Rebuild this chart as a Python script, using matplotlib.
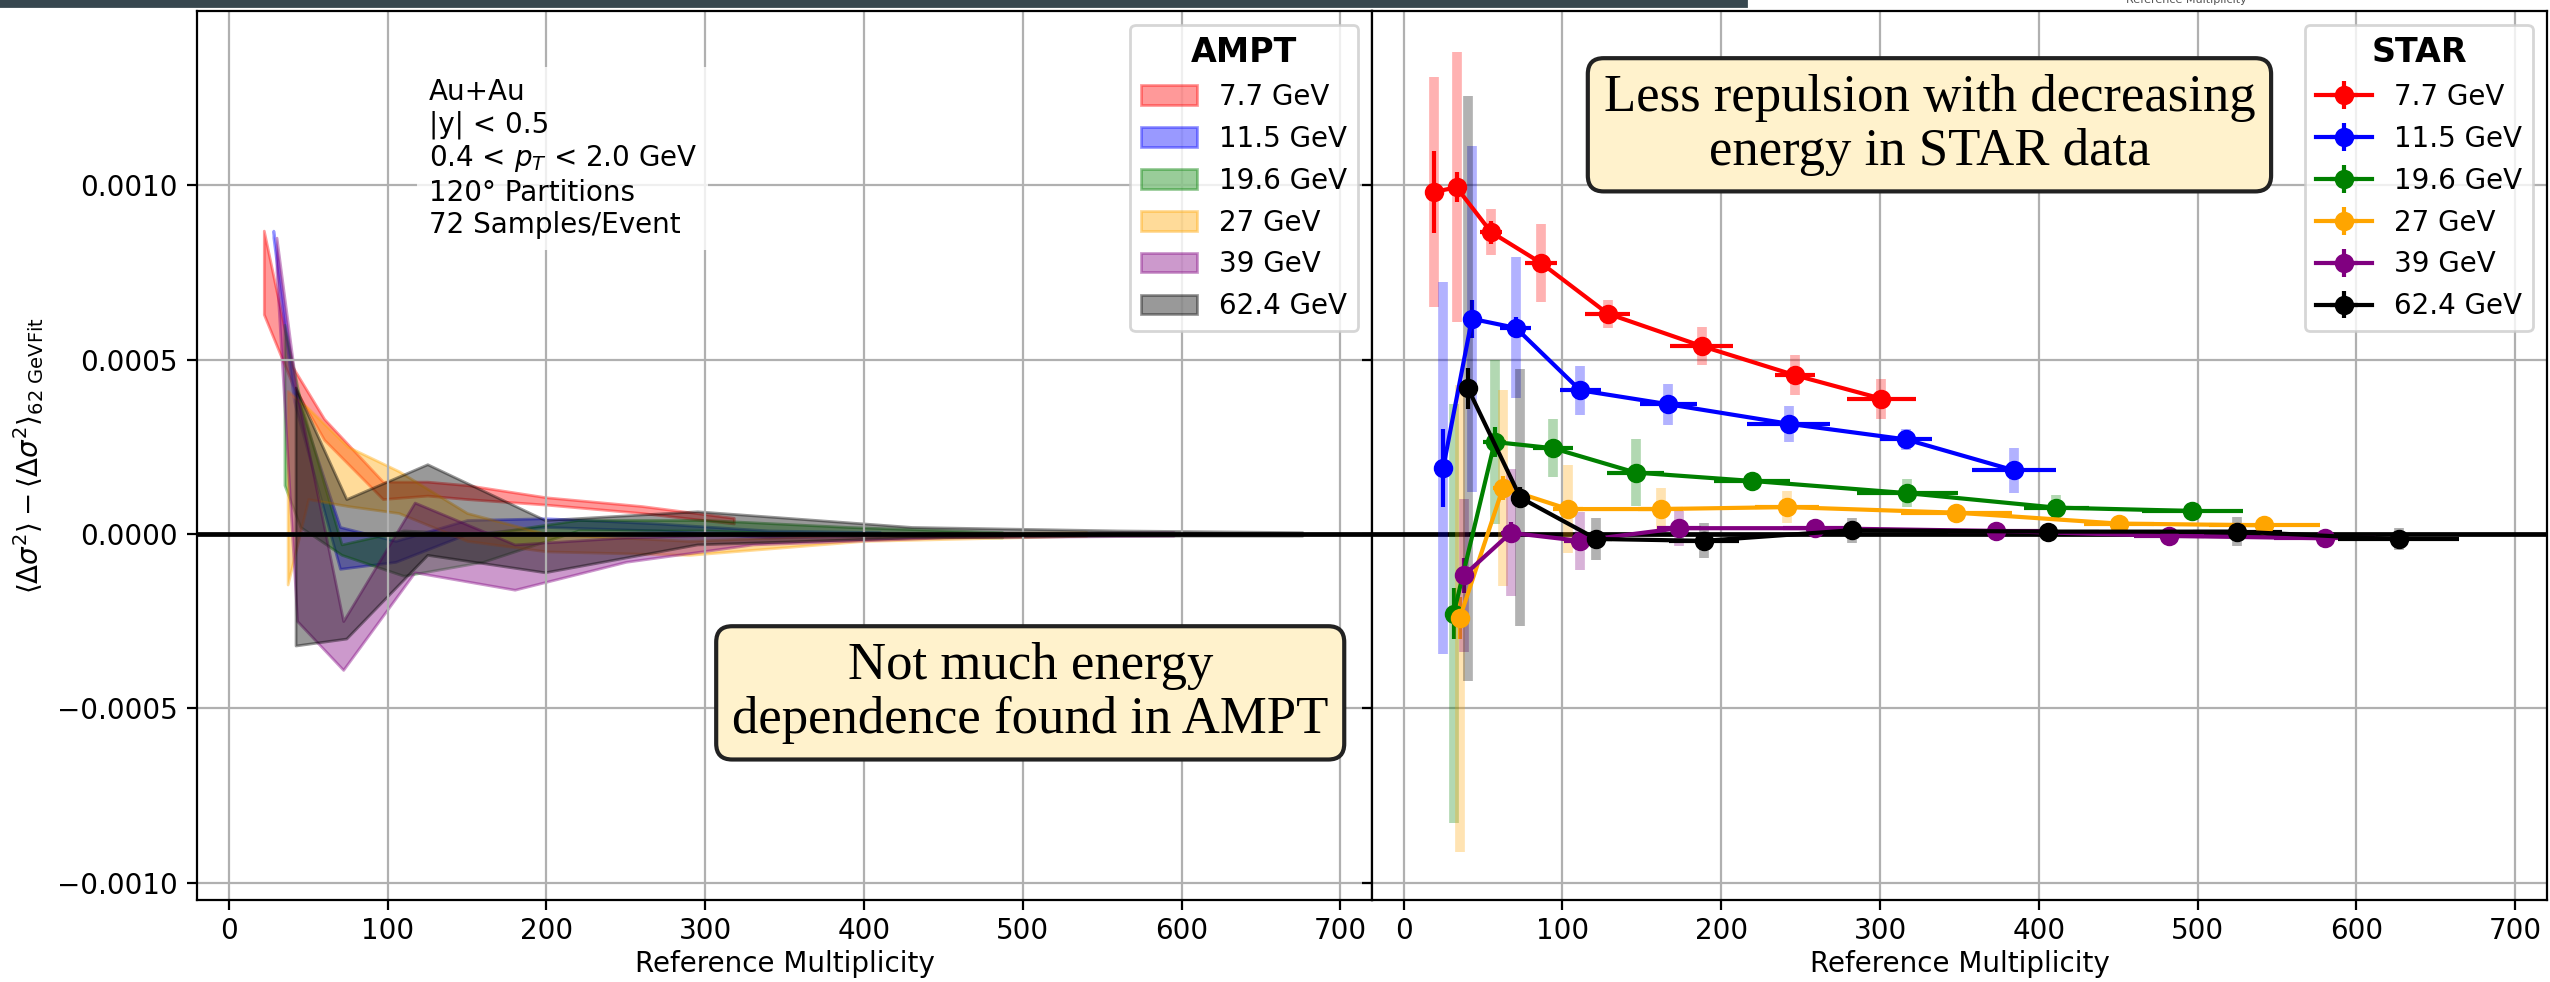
import numpy as np
import matplotlib
matplotlib.use('Agg')
import matplotlib.pyplot as plt
from matplotlib.patches import Rectangle

energies = ['7.7 GeV', '11.5 GeV', '19.6 GeV', '27 GeV', '39 GeV', '62.4 GeV']
colors = ['red', 'blue', 'green', 'orange', 'purple', 'black']

# AMPT bands, values in units of 1e-3
ampt_x = [
    [22, 40, 60, 97, 125, 150, 200, 260, 318],
    [28, 41, 70, 105, 150, 200, 270, 340, 410],
    [35, 45, 71, 110, 160, 220, 300, 390, 487],
    [37, 50, 75, 107, 150, 200, 290, 400, 540],
    [30, 43, 72, 117, 180, 250, 330, 450, 595],
    [42, 74, 125, 199, 295, 430, 560, 676],
]
ampt_hi = [
    [0.87, 0.48, 0.33, 0.15, 0.15, 0.14, 0.105, 0.08, 0.046],
    [0.87, 0.42, 0.02, -0.02, 0.04, 0.045, 0.03, 0.01, 0.005],
    [0.60, 0.38, -0.03, 0.01, 0.00, 0.04, 0.04, 0.02, 0.005],
    [0.41, 0.36, 0.25, 0.18, 0.06, 0.00, -0.02, 0.00, 0.005],
    [0.85, 0.40, -0.25, 0.09, -0.03, -0.01, 0.00, 0.00, 0.005],
    [0.42, 0.10, 0.20, 0.04, 0.065, 0.02, 0.01, 0.005],
]
ampt_lo = [
    [0.63, 0.43, 0.27, 0.10, 0.11, 0.10, 0.084, 0.06, 0.03],
    [0.85, 0.38, -0.10, -0.08, 0.00, 0.02, 0.01, -0.01, -0.005],
    [0.14, 0.02, -0.06, -0.12, -0.08, 0.01, 0.01, -0.005, -0.01],
    [-0.145, 0.10, 0.08, 0.06, -0.02, -0.05, -0.06, -0.02, -0.005],
    [0.75, -0.25, -0.39, -0.11, -0.16, -0.08, -0.03, -0.01, -0.005],
    [-0.32, -0.30, -0.06, -0.11, -0.03, -0.01, -0.005, -0.005],
]

# STAR points, y values in units of 1e-3
star_x = [
    [18.9, 33.3, 55.0, 86.3, 128.5, 187.6, 246.6, 300.9],
    [24.9, 43.0, 70.7, 111.2, 166.6, 242.5, 316.5, 384.3],
    [31.5, 57.3, 94.0, 146.1, 219.5, 317.2, 411.1, 496.7],
    [35.3, 62.5, 103.5, 161.8, 241.3, 348.0, 450.6, 542.1],
    [38.0, 67.4, 110.8, 173.3, 258.8, 373.0, 482.1, 580.2],
    [40.5, 73.5, 121.3, 188.9, 282.1, 405.8, 525.1, 626.6],
]
star_xerr = [
    [2, 3, 7, 10, 14, 20, 12.6, 22],
    [2, 3, 9.8, 13, 18, 26, 16.5, 26.5],
    [2, 7.3, 12.6, 18, 24, 32, 20.5, 32],
    [2, 6, 9.5, 14, 20, 35, 22, 35],
    [2, 6, 10, 14, 20, 30, 22, 32],
    [2, 6, 10, 22, 24, 32, 28, 38],
]
star_y = [
    [0.981, 0.994, 0.866, 0.778, 0.632, 0.539, 0.455, 0.388],
    [0.190, 0.617, 0.591, 0.412, 0.372, 0.316, 0.271, 0.1825],
    [-0.2286, 0.2637, 0.246, 0.176, 0.152, 0.117, 0.0754, 0.066],
    [-0.2418, 0.132, 0.0714, 0.0714, 0.077, 0.061, 0.0296, 0.0248],
    [-0.1187, 0.0033, -0.0198, 0.0165, 0.0165, 0.0086, -0.0057, -0.0124],
    [0.4176, 0.104, -0.0143, -0.0198, 0.0105, 0.0067, 0.0067, -0.0153],
]
star_stat = [
    [0.117, 0.043, 0.033, 0.02, 0.015, 0.013, 0.012, 0.012],
    [0.112, 0.054, 0.03, 0.02, 0.015, 0.013, 0.012, 0.012],
    [0.074, 0.044, 0.025, 0.02, 0.015, 0.012, 0.012, 0.01],
    [0.06, 0.035, 0.02, 0.015, 0.012, 0.01, 0.01, 0.01],
    [0.05, 0.03, 0.02, 0.015, 0.012, 0.01, 0.01, 0.01],
    [0.058, 0.03, 0.02, 0.015, 0.012, 0.01, 0.01, 0.01],
]
star_sys = [
    [0.331, 0.387, 0.065, 0.112, 0.040, 0.055, 0.057, 0.057],
    [0.533, 0.497, 0.202, 0.0695, 0.059, 0.0515, 0.029, 0.0645],
    [0.60, 0.235, 0.0835, 0.096, 0.02, 0.04, 0.037, 0.01],
    [0.67, 0.28, 0.126, 0.06, 0.045, 0.02, 0.015, 0.015],
    [0.22, 0.182, 0.084, 0.05, 0.02, 0.02, 0.02, 0.02],
    [0.84, 0.368, 0.06, 0.05, 0.036, 0.01, 0.042, 0.031],
]

info_text = 'Au+Au\n|y| < 0.5\n0.4 < $p_T$ < 2.0 GeV\n120° Partitions\n72 Samples/Event'
note_ampt = 'Not much energy\ndependence found in AMPT'
note_star = 'Less repulsion with decreasing\nenergy in STAR data'

fig = plt.figure(figsize=(12.75, 4.91), dpi=200)
ax1 = fig.add_axes([0.0773, 0.0835, 0.4608, 0.9053])
ax2 = fig.add_axes([0.5380, 0.0835, 0.4608, 0.9053], sharey=ax1)

for i in range(len(energies)):
    ax1.fill_between(ampt_x[i], np.array(ampt_lo[i]) * 1e-3, np.array(ampt_hi[i]) * 1e-3,
                     color=colors[i], alpha=0.4, label=energies[i])

for i in range(len(energies)):
    y = np.array(star_y[i]) * 1e-3
    ax2.errorbar(star_x[i], y, yerr=np.array(star_sys[i]) * 1e-3, fmt='none',
                 ecolor=colors[i], elinewidth=3.5, alpha=0.3)
    ax2.errorbar(star_x[i], y, yerr=np.array(star_stat[i]) * 1e-3, xerr=star_xerr[i],
                 fmt='o-', color=colors[i], ms=6, lw=1.5, elinewidth=1.5, label=energies[i])

for ax in (ax1, ax2):
    ax.axhline(0, color='black', lw=1.7, zorder=1.8)
    ax.set_xlim(-20, 720)
    ax.set_xticks(np.arange(0, 701, 100))
    ax.tick_params(axis='x', pad=2.5)
    ax.grid(True)
    ax.set_xlabel('Reference Multiplicity', labelpad=2)

ax1.set_ylim(-0.00105, 0.0015)
ax1.set_yticks([-0.001, -0.0005, 0, 0.0005, 0.001])
ax1.set_ylabel(r'$\langle\Delta\sigma^2\rangle - \langle\Delta\sigma^2\rangle_{\mathrm{62\ GeVFit}}$')
ax2.tick_params(labelleft=False)

ax1.legend(loc='upper right', title='AMPT', title_fontproperties={'weight': 'bold', 'size': 12})
ax2.legend(loc='upper right', title='STAR', title_fontproperties={'weight': 'bold', 'size': 12})

ax1.text(0.197, 0.925, info_text, transform=ax1.transAxes, va='top', ha='left',
         bbox=dict(facecolor='white', edgecolor='none', alpha=0.8), zorder=5)

box = dict(boxstyle='round,pad=0.3', facecolor='#fff2cc', edgecolor='#222222', lw=1.5)
ax1.text(0.709, 0.233, note_ampt, transform=ax1.transAxes, ha='center', va='center',
         multialignment='center', fontsize=19, family='Liberation Serif',
         linespacing=1.15, bbox=box, zorder=10)
ax2.text(0.4745, 0.872, note_star, transform=ax2.transAxes, ha='center', va='center',
         multialignment='center', fontsize=19, family='Liberation Serif',
         linespacing=1.15, bbox=box, zorder=10)

# strip of the slide above the plot
fig.add_artist(Rectangle((0, 1 - 6 / 982), 1746 / 2550, 6 / 982, transform=fig.transFigure,
                         color='#37474f'))
fig.text(2186 / 2550, 1.0, 'Reference Multiplicity', fontsize=4, color='#555555',
         ha='center', va='center')

fig.savefig('out.png', dpi=200)
